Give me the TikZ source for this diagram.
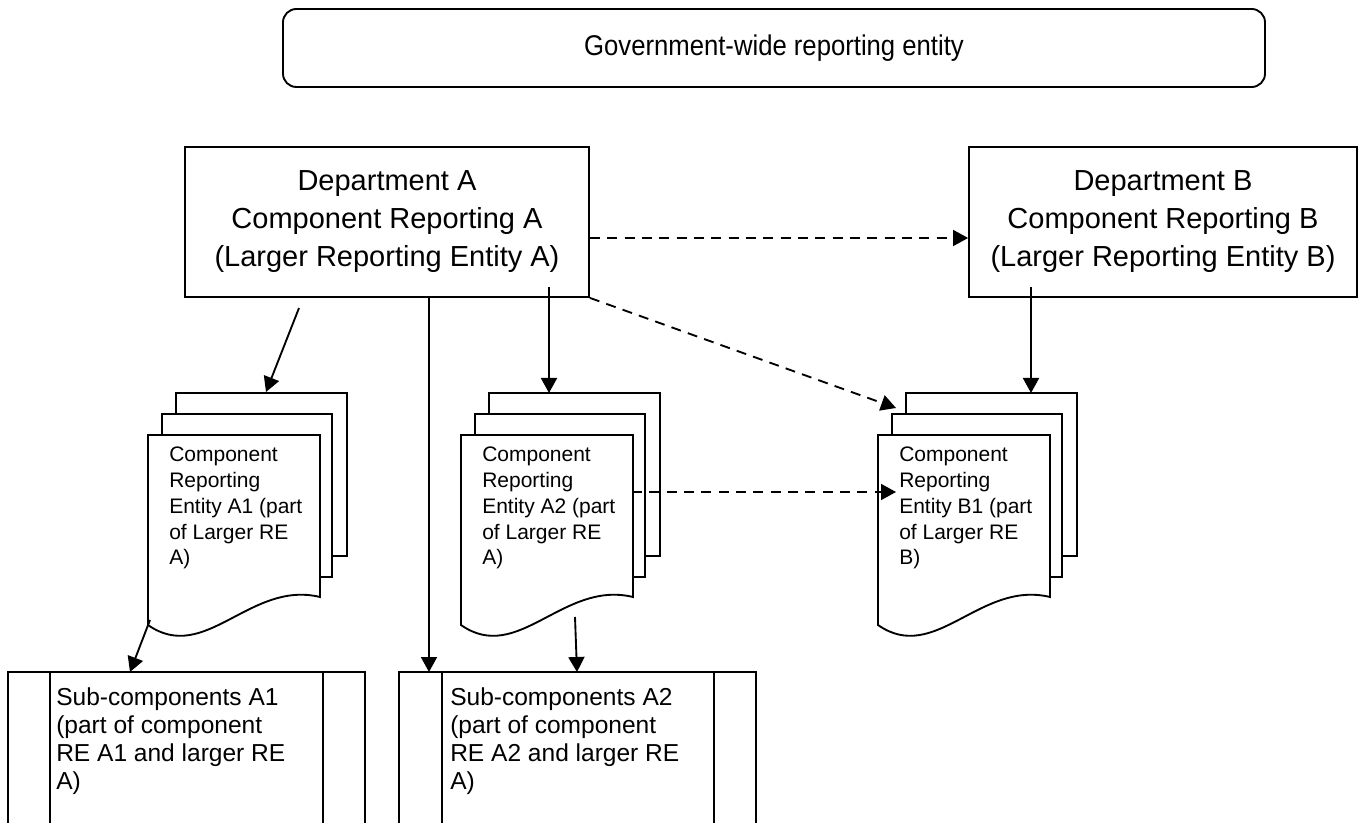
\documentclass[tikz,border=0pt]{standalone}
\usepackage{fontspec}
\setmainfont{Liberation Sans}
\usetikzlibrary{arrows.meta}
\newcommand{\mdocstack}[3]{%
  \draw[page] (#1+28,393) rectangle (#1+199,556);
  \draw[page] (#1+14,414) rectangle (#1+184,577);
  \draw[page] (#1,435) -- (#1+172,435) -- (#1+172,597)
     .. controls (#1+102,580) and (#1+57,665) .. (#1,625) -- cycle;
  \node[doctext] (#2) at (#1+21,447) {#3};
}
\begin{document}
\begin{tikzpicture}[x=0.75pt,y=-0.75pt,
  ln/.style={line width=1.4pt},
  page/.style={ln,fill=white,line join=miter},
  arr/.style={ln,-{Triangle[length=11.25pt,width=12pt]}},
  dsh/.style={arr,dash pattern=on 7.5pt off 5.5pt},
  deptbox/.style={draw,ln,align=center,inner sep=0pt,minimum height=112.5pt,
     font=\fontsize{21.75pt}{28.5pt}\selectfont},
  doctext/.style={anchor=north west,inner sep=0pt,align=left,
     font=\fontsize{15.75pt}{19.3pt}\selectfont},
  subtext/.style={anchor=north west,inner sep=0pt,align=left,
     font=\fontsize{18.4pt}{21.2pt}\selectfont}]
\useasboundingbox (0,0) rectangle (1360,823);

% top box
\node[draw,ln,rounded corners=10pt,minimum width=736.5pt,minimum height=58.5pt,
  font=\fontsize{21.4pt}{25pt}\selectfont] (gw) at (774,48)
  {\scalebox{0.9}[1]{Government-wide reporting entity}};

% departments
\node[deptbox,minimum width=303pt] (deptA) at (387,222)
  {Department A\\Component Reporting A\\(Larger Reporting Entity A)};
\node[deptbox,minimum width=291pt] (deptB) at (1163,222)
  {Department B\\Component Reporting B\\(Larger Reporting Entity B)};

% multi-document stacks
\mdocstack{148}{docA1}{Component\\Reporting\\Entity A1 (part\\of Larger RE\\A)}
\mdocstack{461}{docA2}{Component\\Reporting\\Entity A2 (part\\of Larger RE\\A)}
\mdocstack{878}{docB1}{Component\\Reporting\\Entity B1 (part\\of Larger RE\\B)}

% sub-component boxes (predefined process, cut at the bottom)
\draw[ln] (8,823) -- (8,672) -- (365,672) -- (365,823);
\draw[ln] (50,672) -- (50,823);
\draw[ln] (323,672) -- (323,823);
\node[subtext] (subA1) at (56,687) {Sub-components A1\\(part of component\\RE A1 and larger RE\\A)};

\draw[ln] (399,823) -- (399,672) -- (756,672) -- (756,823);
\draw[ln] (442,672) -- (442,823);
\draw[ln] (714,672) -- (714,823);
\node[subtext] (subA2) at (450,687) {Sub-components A2\\(part of component\\RE A2 and larger RE\\A)};

% connector end points
\coordinate (a1from) at (299,308);
\coordinate (a1to)   at (266,392);
\coordinate (a2from) at (549,287);
\coordinate (a2to)   at (549,393);
\coordinate (bfrom)  at (1031,287);
\coordinate (bto)    at (1031,393);
\coordinate (longfrom) at (429,297);
\coordinate (longto)   at (429,672);
\coordinate (a2bot)  at (575,617);
\coordinate (s2top)  at (577,672);
\coordinate (a1bot)  at (150,620);
\coordinate (s1top)  at (130,672);
\coordinate (b1diag) at (896,408);
\coordinate (a2right) at (632,492);
\coordinate (b1mid)  at (896,492);

% solid connectors
\draw[arr] (a1from) -- (a1to);
\draw[arr] (a2from) -- (a2to);
\draw[arr] (bfrom) -- (bto);
\draw[arr] (longfrom) -- (longto);
\draw[arr] (a2bot) -- (s2top);
\draw[arr] (a1bot) -- (s1top);

% dashed connectors
\draw[dsh] ([yshift=-12pt]deptA.east) -- ([yshift=-12pt]deptB.west);
\draw[dsh] (deptA.south east) -- (b1diag);
\draw[dsh] (a2right) -- (b1mid);
\end{tikzpicture}
\end{document}
